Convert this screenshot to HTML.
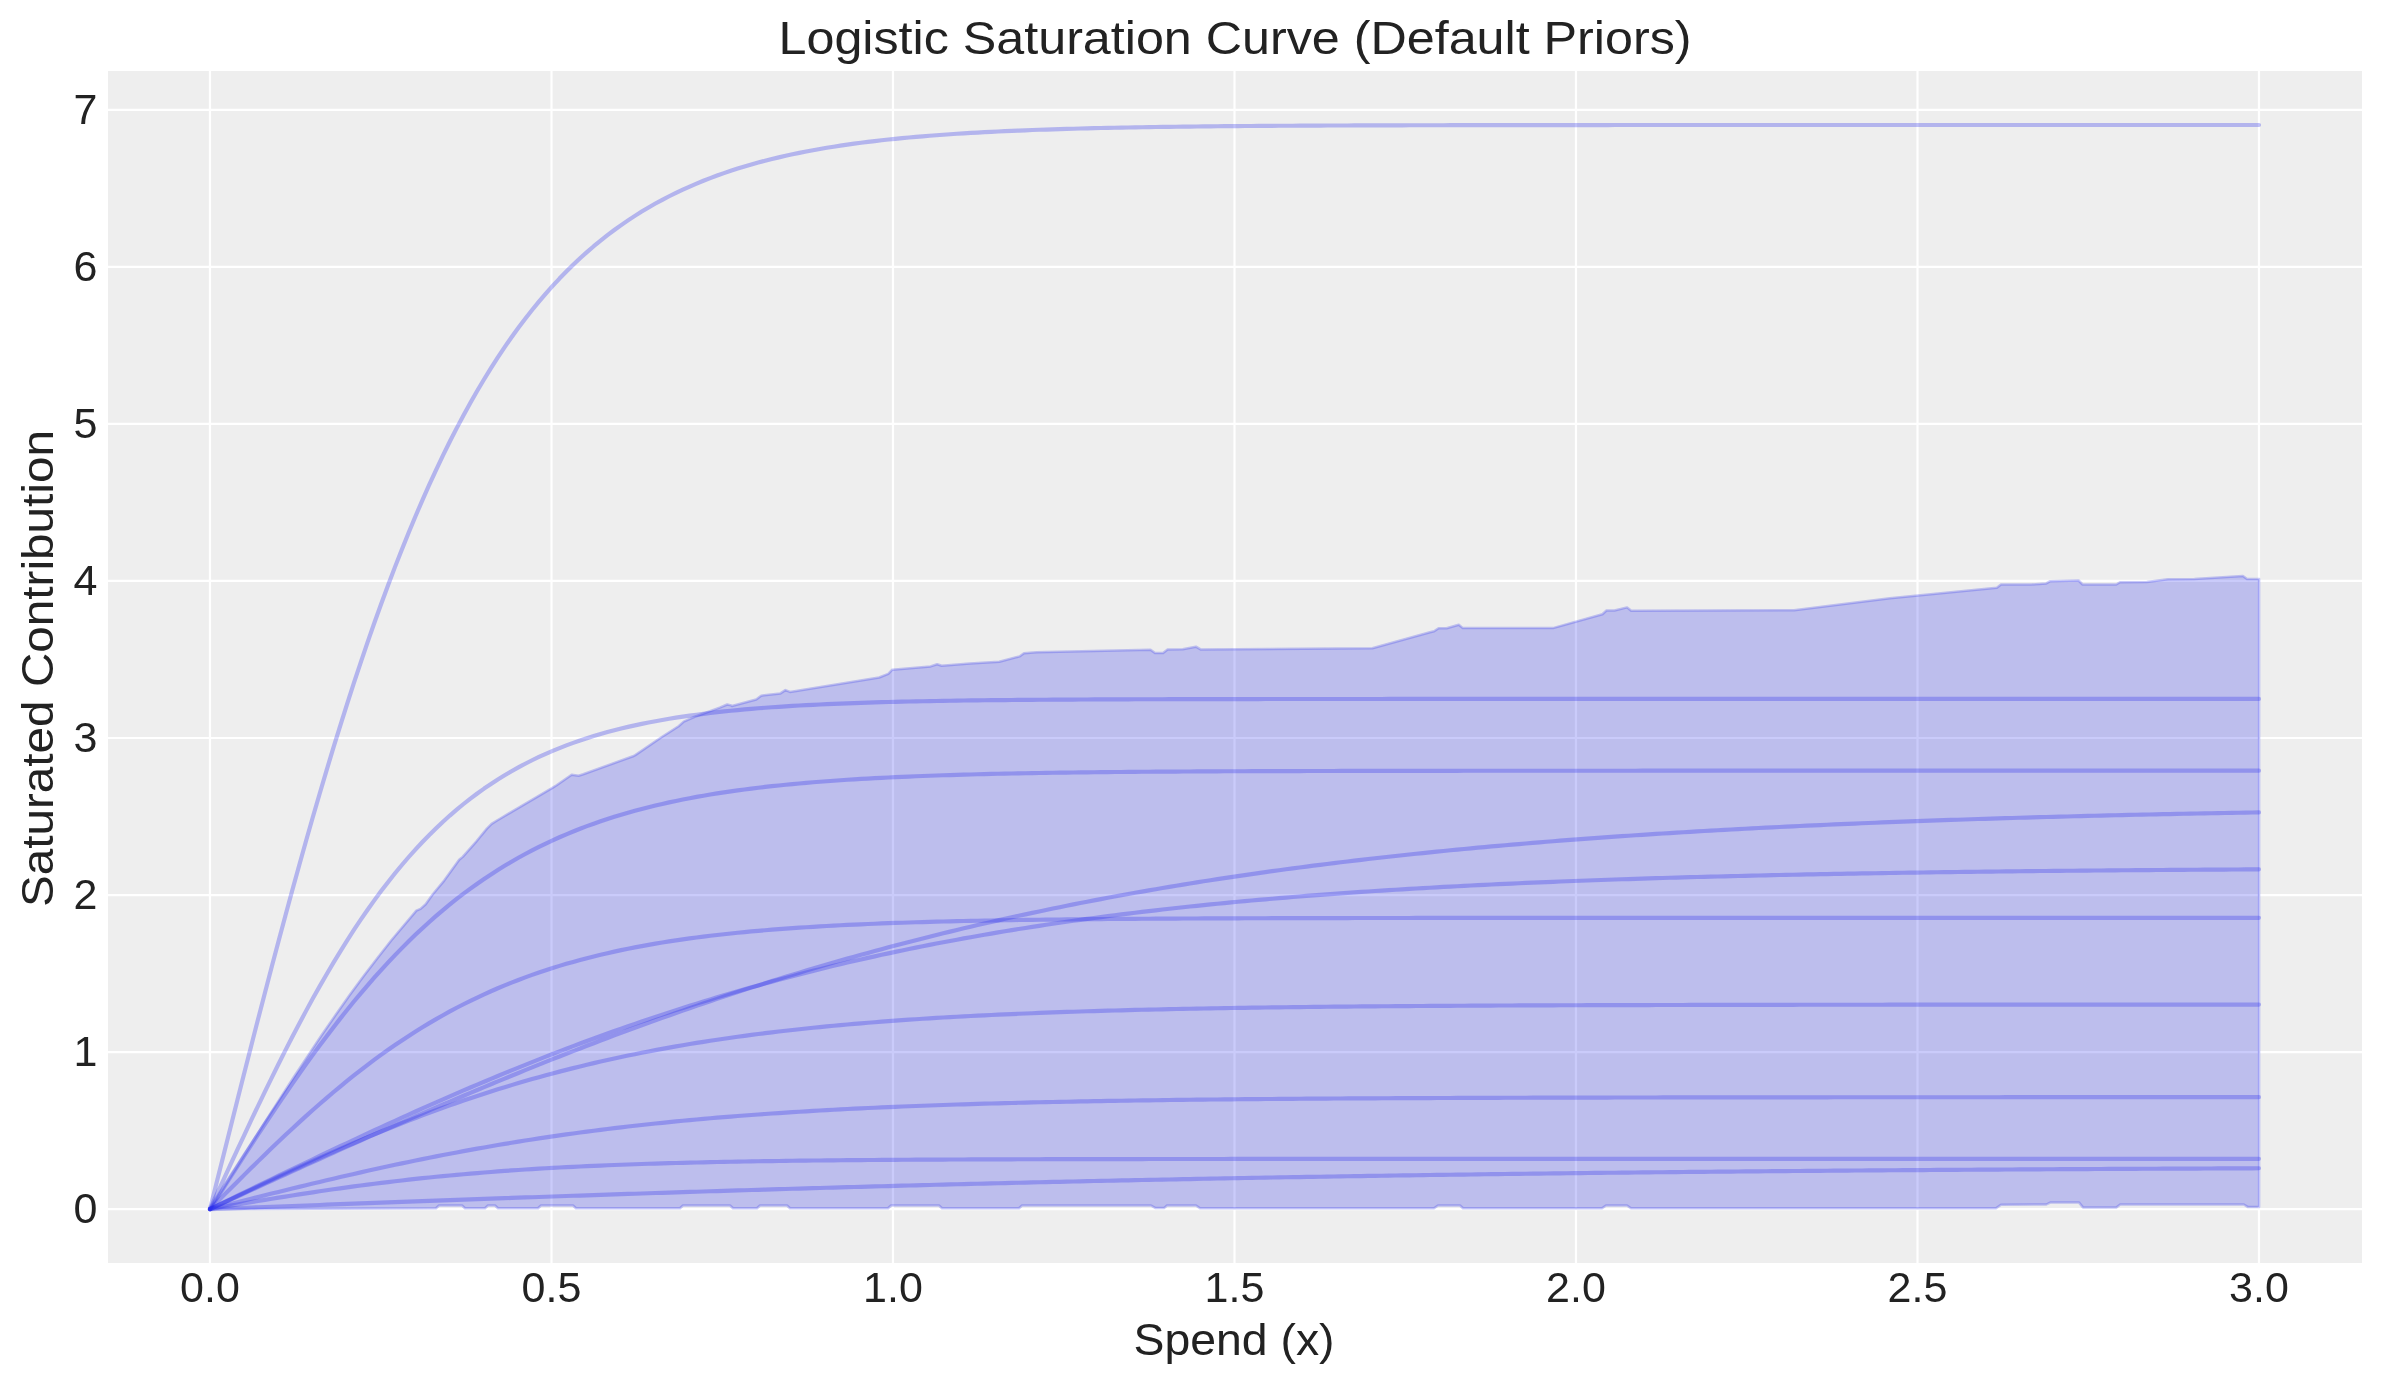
<!DOCTYPE html>
<html><head><meta charset="utf-8"><style>
html,body{margin:0;padding:0;background:#fff;overflow:hidden;}
svg{display:block;will-change:transform;}
text{font-family:"Liberation Sans",sans-serif;fill:#222222;}
</style></head><body>
<svg width="2381" height="1384" viewBox="0 0 2381 1384">
<rect x="0" y="0" width="2381" height="1384" fill="#ffffff"/>
<rect x="108" y="71" width="2254" height="1192" fill="#eeeeee"/>
<g stroke="#ffffff" stroke-width="2.22" fill="none">
<line x1="210.00" y1="71" x2="210.00" y2="1263"/>
<line x1="551.50" y1="71" x2="551.50" y2="1263"/>
<line x1="893.00" y1="71" x2="893.00" y2="1263"/>
<line x1="1234.50" y1="71" x2="1234.50" y2="1263"/>
<line x1="1576.00" y1="71" x2="1576.00" y2="1263"/>
<line x1="1917.50" y1="71" x2="1917.50" y2="1263"/>
<line x1="2259.00" y1="71" x2="2259.00" y2="1263"/>
<line x1="108" y1="1209.10" x2="2362" y2="1209.10"/>
<line x1="108" y1="1052.07" x2="2362" y2="1052.07"/>
<line x1="108" y1="895.04" x2="2362" y2="895.04"/>
<line x1="108" y1="738.01" x2="2362" y2="738.01"/>
<line x1="108" y1="580.98" x2="2362" y2="580.98"/>
<line x1="108" y1="423.95" x2="2362" y2="423.95"/>
<line x1="108" y1="266.92" x2="2362" y2="266.92"/>
<line x1="108" y1="109.89" x2="2362" y2="109.89"/>
</g>
<path d="M210.0,1209.1 L224.0,1187.1 L237.9,1165.0 L251.9,1142.9 L265.8,1120.8 L279.8,1098.9 L293.7,1077.3 L307.7,1056.1 L321.6,1035.3 L335.6,1015.0 L349.5,995.3 L363.5,976.3 L377.5,958.0 L391.4,940.3 L416.4,910.6 L420.5,908.9 L425.7,904.3 L432.6,894.5 L444.2,880.6 L459.2,859.8 L462.7,856.9 L476.5,841.3 L486.9,828.6 L491.6,823.9 L496.2,821.0 L500.0,818.7 L552.0,788.1 L556.6,785.2 L571.7,774.8 L578.6,775.7 L583.2,774.2 L633.0,756.3 L635.3,755.1 L660.7,737.8 L678.6,726.2 L683.8,721.6 L694.2,717.0 L719.7,707.7 L727.2,704.5 L731.2,705.4 L732.0,706.0 L756.2,699.5 L761.2,695.7 L780.4,693.4 L785.4,690.1 L790.0,691.9 L879.2,677.5 L888.3,673.8 L892.3,669.7 L930.6,666.4 L937.1,664.2 L941.7,665.7 L970.0,663.4 L999.3,661.8 L1019.5,656.4 L1024.0,653.2 L1036.6,652.2 L1150.5,649.7 L1155.0,653.0 L1163.1,653.0 L1167.6,649.5 L1182.8,649.2 L1195.9,646.7 L1200.6,649.4 L1372.4,648.3 L1430.0,632.2 L1434.1,631.3 L1438.6,628.3 L1446.7,628.3 L1458.8,624.8 L1462.8,628.1 L1553.0,628.1 L1602.4,614.2 L1606.5,610.5 L1614.5,610.5 L1627.1,607.4 L1631.2,610.7 L1794.1,610.3 L1890.0,598.2 L1996.9,587.7 L2001.0,584.5 L2031.2,584.5 L2046.3,583.4 L2050.3,581.2 L2078.6,580.5 L2082.6,584.5 L2116.3,584.5 L2120.0,582.3 L2146.9,582.1 L2168.0,579.3 L2194.5,578.9 L2242.9,576.0 L2247.0,579.0 L2259.1,579.0 L2259.1,1206.9 L2247.7,1206.9 L2243.8,1204.5 L2120.2,1204.5 L2116.3,1207.4 L2083.0,1207.4 L2079.1,1202.6 L2050.1,1202.6 L2046.3,1204.5 L2001.0,1204.8 L1996.0,1208.2 L1631.0,1208.2 L1627.0,1205.5 L1606.0,1205.5 L1602.0,1208.2 L1463.0,1208.2 L1460.0,1205.5 L1438.0,1205.5 L1434.0,1208.2 L1200.0,1208.2 L1196.0,1205.5 L1167.0,1205.5 L1164.0,1208.1 L1155.6,1208.1 L1151.0,1205.5 L1022.0,1205.5 L1019.0,1208.2 L942.0,1208.2 L939.0,1205.5 L891.0,1205.5 L888.0,1208.2 L790.0,1208.2 L787.0,1205.5 L760.0,1205.5 L757.0,1208.2 L733.0,1208.2 L730.0,1205.5 L683.0,1205.5 L680.0,1208.2 L576.0,1208.2 L573.0,1205.5 L541.0,1205.5 L538.0,1208.2 L498.0,1208.2 L495.0,1205.5 L488.0,1205.5 L485.0,1208.2 L465.0,1208.2 L462.0,1205.5 L439.0,1205.5 L436.0,1208.2 L210.0,1209.1 Z" fill="#2a2eec" fill-opacity="0.25" stroke="#2a2eec" stroke-opacity="0.25" stroke-width="2.5" stroke-linejoin="round"/>
<g fill="none" stroke="#2a2eec" stroke-opacity="0.3" stroke-width="4.17" stroke-linecap="round" stroke-linejoin="round">
<path d="M210.00,1209.10 L216.85,1181.75 L223.71,1154.43 L230.56,1127.18 L237.41,1100.04 L244.26,1073.04 L251.12,1046.20 L257.97,1019.57 L264.82,993.17 L271.68,967.03 L278.53,941.19 L285.38,915.67 L292.23,890.49 L299.09,865.69 L305.94,841.28 L312.79,817.28 L319.65,793.71 L326.50,770.60 L333.35,747.96 L340.20,725.79 L347.06,704.12 L353.91,682.95 L360.76,662.29 L367.62,642.16 L374.47,622.54 L381.32,603.46 L388.17,584.91 L395.03,566.88 L401.88,549.39 L408.73,532.43 L415.59,515.99 L422.44,500.08 L429.29,484.68 L436.14,469.79 L443.00,455.40 L449.85,441.52 L456.70,428.11 L463.56,415.19 L470.41,402.74 L477.26,390.74 L484.11,379.20 L490.97,368.09 L497.82,357.40 L504.67,347.14 L511.53,337.27 L518.38,327.80 L525.23,318.71 L532.08,309.99 L538.94,301.62 L545.79,293.61 L552.64,285.92 L559.49,278.56 L566.35,271.51 L573.20,264.77 L580.05,258.31 L586.91,252.13 L593.76,246.22 L600.61,240.57 L607.46,235.17 L614.32,230.01 L621.17,225.08 L628.02,220.37 L634.88,215.87 L641.73,211.58 L648.58,207.48 L655.43,203.56 L662.29,199.83 L669.14,196.26 L675.99,192.86 L682.85,189.62 L689.70,186.53 L696.55,183.58 L703.40,180.77 L710.26,178.09 L717.11,175.54 L723.96,173.10 L730.82,170.79 L737.67,168.58 L744.52,166.47 L751.37,164.47 L758.23,162.55 L765.08,160.74 L771.93,159.00 L778.79,157.35 L785.64,155.78 L792.49,154.28 L799.34,152.86 L806.20,151.50 L813.05,150.21 L819.90,148.98 L826.76,147.81 L833.61,146.70 L840.46,145.64 L847.31,144.63 L854.17,143.67 L861.02,142.76 L867.87,141.89 L874.73,141.06 L881.58,140.28 L888.43,139.53 L895.28,138.82 L902.14,138.14 L908.99,137.49 L915.84,136.88 L922.70,136.30 L929.55,135.74 L936.40,135.22 L943.25,134.71 L950.11,134.24 L956.96,133.78 L963.81,133.35 L970.67,132.94 L977.52,132.55 L984.37,132.17 L991.22,131.82 L998.08,131.48 L1004.93,131.16 L1011.78,130.86 L1018.64,130.57 L1025.49,130.30 L1032.34,130.03 L1039.19,129.79 L1046.05,129.55 L1052.90,129.32 L1059.75,129.11 L1066.61,128.91 L1073.46,128.71 L1080.31,128.53 L1087.16,128.35 L1094.02,128.19 L1100.87,128.03 L1107.72,127.88 L1114.58,127.73 L1121.43,127.60 L1128.28,127.47 L1135.13,127.35 L1141.99,127.23 L1148.84,127.12 L1155.69,127.01 L1162.55,126.91 L1169.40,126.82 L1176.25,126.72 L1183.10,126.64 L1189.96,126.56 L1196.81,126.48 L1203.66,126.40 L1210.52,126.33 L1217.37,126.26 L1224.22,126.20 L1231.07,126.14 L1237.93,126.08 L1244.78,126.03 L1251.63,125.97 L1258.48,125.93 L1265.34,125.88 L1272.19,125.83 L1279.04,125.79 L1285.90,125.75 L1292.75,125.71 L1299.60,125.67 L1306.45,125.64 L1313.31,125.61 L1320.16,125.57 L1327.01,125.54 L1333.87,125.52 L1340.72,125.49 L1347.57,125.46 L1354.42,125.44 L1361.28,125.42 L1368.13,125.39 L1374.98,125.37 L1381.84,125.35 L1388.69,125.33 L1395.54,125.31 L1402.39,125.30 L1409.25,125.28 L1416.10,125.27 L1422.95,125.25 L1429.81,125.24 L1436.66,125.22 L1443.51,125.21 L1450.36,125.20 L1457.22,125.19 L1464.07,125.18 L1470.92,125.17 L1477.78,125.16 L1484.63,125.15 L1491.48,125.14 L1498.33,125.13 L1505.19,125.12 L1512.04,125.11 L1518.89,125.11 L1525.75,125.10 L1532.60,125.09 L1539.45,125.09 L1546.30,125.08 L1553.16,125.07 L1560.01,125.07 L1566.86,125.06 L1573.72,125.06 L1580.57,125.05 L1587.42,125.05 L1594.27,125.05 L1601.13,125.04 L1607.98,125.04 L1614.83,125.03 L1621.69,125.03 L1628.54,125.03 L1635.39,125.02 L1642.24,125.02 L1649.10,125.02 L1655.95,125.02 L1662.80,125.01 L1669.66,125.01 L1676.51,125.01 L1683.36,125.01 L1690.21,125.00 L1697.07,125.00 L1703.92,125.00 L1710.77,125.00 L1717.63,125.00 L1724.48,125.00 L1731.33,124.99 L1738.18,124.99 L1745.04,124.99 L1751.89,124.99 L1758.74,124.99 L1765.60,124.99 L1772.45,124.99 L1779.30,124.99 L1786.15,124.98 L1793.01,124.98 L1799.86,124.98 L1806.71,124.98 L1813.57,124.98 L1820.42,124.98 L1827.27,124.98 L1834.12,124.98 L1840.98,124.98 L1847.83,124.98 L1854.68,124.98 L1861.54,124.98 L1868.39,124.98 L1875.24,124.98 L1882.09,124.97 L1888.95,124.97 L1895.80,124.97 L1902.65,124.97 L1909.51,124.97 L1916.36,124.97 L1923.21,124.97 L1930.06,124.97 L1936.92,124.97 L1943.77,124.97 L1950.62,124.97 L1957.47,124.97 L1964.33,124.97 L1971.18,124.97 L1978.03,124.97 L1984.89,124.97 L1991.74,124.97 L1998.59,124.97 L2005.44,124.97 L2012.30,124.97 L2019.15,124.97 L2026.00,124.97 L2032.86,124.97 L2039.71,124.97 L2046.56,124.97 L2053.41,124.97 L2060.27,124.97 L2067.12,124.97 L2073.97,124.97 L2080.83,124.97 L2087.68,124.97 L2094.53,124.97 L2101.38,124.97 L2108.24,124.97 L2115.09,124.97 L2121.94,124.97 L2128.80,124.97 L2135.65,124.97 L2142.50,124.97 L2149.35,124.97 L2156.21,124.97 L2163.06,124.97 L2169.91,124.97 L2176.77,124.97 L2183.62,124.97 L2190.47,124.97 L2197.32,124.97 L2204.18,124.97 L2211.03,124.97 L2217.88,124.97 L2224.74,124.97 L2231.59,124.97 L2238.44,124.97 L2245.29,124.97 L2252.15,124.97 L2259.00,124.97"/>
<path d="M210.00,1209.10 L216.85,1194.18 L223.71,1179.29 L230.56,1164.45 L237.41,1149.68 L244.26,1135.02 L251.12,1120.48 L257.97,1106.08 L264.82,1091.86 L271.68,1077.82 L278.53,1064.00 L285.38,1050.40 L292.23,1037.05 L299.09,1023.95 L305.94,1011.14 L312.79,998.61 L319.65,986.38 L326.50,974.45 L333.35,962.85 L340.20,951.57 L347.06,940.61 L353.91,929.99 L360.76,919.70 L367.62,909.75 L374.47,900.13 L381.32,890.85 L388.17,881.90 L395.03,873.28 L401.88,864.98 L408.73,857.01 L415.59,849.35 L422.44,842.00 L429.29,834.96 L436.14,828.21 L443.00,821.74 L449.85,815.56 L456.70,809.65 L463.56,804.01 L470.41,798.62 L477.26,793.48 L484.11,788.58 L490.97,783.91 L497.82,779.46 L504.67,775.23 L511.53,771.20 L518.38,767.37 L525.23,763.72 L532.08,760.26 L538.94,756.98 L545.79,753.85 L552.64,750.89 L559.49,748.08 L566.35,745.41 L573.20,742.89 L580.05,740.49 L586.91,738.22 L593.76,736.07 L600.61,734.03 L607.46,732.10 L614.32,730.27 L621.17,728.54 L628.02,726.90 L634.88,725.35 L641.73,723.89 L648.58,722.50 L655.43,721.19 L662.29,719.95 L669.14,718.78 L675.99,717.67 L682.85,716.62 L689.70,715.63 L696.55,714.70 L703.40,713.81 L710.26,712.98 L717.11,712.19 L723.96,711.44 L730.82,710.74 L737.67,710.07 L744.52,709.45 L751.37,708.85 L758.23,708.29 L765.08,707.77 L771.93,707.27 L778.79,706.80 L785.64,706.35 L792.49,705.93 L799.34,705.53 L806.20,705.16 L813.05,704.81 L819.90,704.47 L826.76,704.16 L833.61,703.86 L840.46,703.58 L847.31,703.32 L854.17,703.07 L861.02,702.83 L867.87,702.61 L874.73,702.40 L881.58,702.20 L888.43,702.02 L895.28,701.84 L902.14,701.68 L908.99,701.52 L915.84,701.37 L922.70,701.23 L929.55,701.10 L936.40,700.98 L943.25,700.86 L950.11,700.75 L956.96,700.64 L963.81,700.54 L970.67,700.45 L977.52,700.36 L984.37,700.28 L991.22,700.20 L998.08,700.13 L1004.93,700.06 L1011.78,700.00 L1018.64,699.93 L1025.49,699.88 L1032.34,699.82 L1039.19,699.77 L1046.05,699.72 L1052.90,699.67 L1059.75,699.63 L1066.61,699.59 L1073.46,699.55 L1080.31,699.52 L1087.16,699.48 L1094.02,699.45 L1100.87,699.42 L1107.72,699.39 L1114.58,699.36 L1121.43,699.34 L1128.28,699.31 L1135.13,699.29 L1141.99,699.27 L1148.84,699.25 L1155.69,699.23 L1162.55,699.21 L1169.40,699.19 L1176.25,699.18 L1183.10,699.16 L1189.96,699.15 L1196.81,699.13 L1203.66,699.12 L1210.52,699.11 L1217.37,699.10 L1224.22,699.09 L1231.07,699.08 L1237.93,699.07 L1244.78,699.06 L1251.63,699.05 L1258.48,699.04 L1265.34,699.03 L1272.19,699.03 L1279.04,699.02 L1285.90,699.01 L1292.75,699.01 L1299.60,699.00 L1306.45,699.00 L1313.31,698.99 L1320.16,698.99 L1327.01,698.98 L1333.87,698.98 L1340.72,698.98 L1347.57,698.97 L1354.42,698.97 L1361.28,698.96 L1368.13,698.96 L1374.98,698.96 L1381.84,698.96 L1388.69,698.95 L1395.54,698.95 L1402.39,698.95 L1409.25,698.95 L1416.10,698.94 L1422.95,698.94 L1429.81,698.94 L1436.66,698.94 L1443.51,698.94 L1450.36,698.94 L1457.22,698.93 L1464.07,698.93 L1470.92,698.93 L1477.78,698.93 L1484.63,698.93 L1491.48,698.93 L1498.33,698.93 L1505.19,698.93 L1512.04,698.92 L1518.89,698.92 L1525.75,698.92 L1532.60,698.92 L1539.45,698.92 L1546.30,698.92 L1553.16,698.92 L1560.01,698.92 L1566.86,698.92 L1573.72,698.92 L1580.57,698.92 L1587.42,698.92 L1594.27,698.92 L1601.13,698.92 L1607.98,698.92 L1614.83,698.92 L1621.69,698.92 L1628.54,698.92 L1635.39,698.91 L1642.24,698.91 L1649.10,698.91 L1655.95,698.91 L1662.80,698.91 L1669.66,698.91 L1676.51,698.91 L1683.36,698.91 L1690.21,698.91 L1697.07,698.91 L1703.92,698.91 L1710.77,698.91 L1717.63,698.91 L1724.48,698.91 L1731.33,698.91 L1738.18,698.91 L1745.04,698.91 L1751.89,698.91 L1758.74,698.91 L1765.60,698.91 L1772.45,698.91 L1779.30,698.91 L1786.15,698.91 L1793.01,698.91 L1799.86,698.91 L1806.71,698.91 L1813.57,698.91 L1820.42,698.91 L1827.27,698.91 L1834.12,698.91 L1840.98,698.91 L1847.83,698.91 L1854.68,698.91 L1861.54,698.91 L1868.39,698.91 L1875.24,698.91 L1882.09,698.91 L1888.95,698.91 L1895.80,698.91 L1902.65,698.91 L1909.51,698.91 L1916.36,698.91 L1923.21,698.91 L1930.06,698.91 L1936.92,698.91 L1943.77,698.91 L1950.62,698.91 L1957.47,698.91 L1964.33,698.91 L1971.18,698.91 L1978.03,698.91 L1984.89,698.91 L1991.74,698.91 L1998.59,698.91 L2005.44,698.91 L2012.30,698.91 L2019.15,698.91 L2026.00,698.91 L2032.86,698.91 L2039.71,698.91 L2046.56,698.91 L2053.41,698.91 L2060.27,698.91 L2067.12,698.91 L2073.97,698.91 L2080.83,698.91 L2087.68,698.91 L2094.53,698.91 L2101.38,698.91 L2108.24,698.91 L2115.09,698.91 L2121.94,698.91 L2128.80,698.91 L2135.65,698.91 L2142.50,698.91 L2149.35,698.91 L2156.21,698.91 L2163.06,698.91 L2169.91,698.91 L2176.77,698.91 L2183.62,698.91 L2190.47,698.91 L2197.32,698.91 L2204.18,698.91 L2211.03,698.91 L2217.88,698.91 L2224.74,698.91 L2231.59,698.91 L2238.44,698.91 L2245.29,698.91 L2252.15,698.91 L2259.00,698.91"/>
<path d="M210.00,1209.10 L216.85,1198.36 L223.71,1187.64 L230.56,1176.94 L237.41,1166.28 L244.26,1155.67 L251.12,1145.12 L257.97,1134.65 L264.82,1124.26 L271.68,1113.98 L278.53,1103.80 L285.38,1093.74 L292.23,1083.81 L299.09,1074.02 L305.94,1064.37 L312.79,1054.88 L319.65,1045.55 L326.50,1036.39 L333.35,1027.41 L340.20,1018.60 L347.06,1009.98 L353.91,1001.55 L360.76,993.32 L367.62,985.28 L374.47,977.44 L381.32,969.79 L388.17,962.36 L395.03,955.12 L401.88,948.08 L408.73,941.25 L415.59,934.62 L422.44,928.19 L429.29,921.96 L436.14,915.92 L443.00,910.08 L449.85,904.43 L456.70,898.97 L463.56,893.70 L470.41,888.61 L477.26,883.70 L484.11,878.96 L490.97,874.40 L497.82,870.00 L504.67,865.76 L511.53,861.69 L518.38,857.77 L525.23,854.00 L532.08,850.38 L538.94,846.90 L545.79,843.56 L552.64,840.35 L559.49,837.27 L566.35,834.32 L573.20,831.49 L580.05,828.77 L586.91,826.17 L593.76,823.68 L600.61,821.29 L607.46,819.00 L614.32,816.81 L621.17,814.72 L628.02,812.71 L634.88,810.79 L641.73,808.96 L648.58,807.21 L655.43,805.53 L662.29,803.92 L669.14,802.39 L675.99,800.93 L682.85,799.53 L689.70,798.19 L696.55,796.92 L703.40,795.70 L710.26,794.53 L717.11,793.42 L723.96,792.36 L730.82,791.35 L737.67,790.38 L744.52,789.46 L751.37,788.58 L758.23,787.74 L765.08,786.94 L771.93,786.18 L778.79,785.45 L785.64,784.75 L792.49,784.09 L799.34,783.46 L806.20,782.85 L813.05,782.28 L819.90,781.73 L826.76,781.21 L833.61,780.71 L840.46,780.24 L847.31,779.78 L854.17,779.35 L861.02,778.94 L867.87,778.55 L874.73,778.18 L881.58,777.82 L888.43,777.48 L895.28,777.16 L902.14,776.85 L908.99,776.56 L915.84,776.28 L922.70,776.01 L929.55,775.76 L936.40,775.52 L943.25,775.28 L950.11,775.07 L956.96,774.86 L963.81,774.66 L970.67,774.47 L977.52,774.29 L984.37,774.11 L991.22,773.95 L998.08,773.79 L1004.93,773.65 L1011.78,773.50 L1018.64,773.37 L1025.49,773.24 L1032.34,773.12 L1039.19,773.00 L1046.05,772.89 L1052.90,772.78 L1059.75,772.68 L1066.61,772.59 L1073.46,772.50 L1080.31,772.41 L1087.16,772.33 L1094.02,772.25 L1100.87,772.17 L1107.72,772.10 L1114.58,772.03 L1121.43,771.97 L1128.28,771.91 L1135.13,771.85 L1141.99,771.79 L1148.84,771.74 L1155.69,771.69 L1162.55,771.64 L1169.40,771.59 L1176.25,771.55 L1183.10,771.51 L1189.96,771.47 L1196.81,771.43 L1203.66,771.39 L1210.52,771.36 L1217.37,771.33 L1224.22,771.29 L1231.07,771.26 L1237.93,771.24 L1244.78,771.21 L1251.63,771.18 L1258.48,771.16 L1265.34,771.14 L1272.19,771.11 L1279.04,771.09 L1285.90,771.07 L1292.75,771.05 L1299.60,771.04 L1306.45,771.02 L1313.31,771.00 L1320.16,770.99 L1327.01,770.97 L1333.87,770.96 L1340.72,770.94 L1347.57,770.93 L1354.42,770.92 L1361.28,770.91 L1368.13,770.89 L1374.98,770.88 L1381.84,770.87 L1388.69,770.86 L1395.54,770.85 L1402.39,770.85 L1409.25,770.84 L1416.10,770.83 L1422.95,770.82 L1429.81,770.82 L1436.66,770.81 L1443.51,770.80 L1450.36,770.80 L1457.22,770.79 L1464.07,770.78 L1470.92,770.78 L1477.78,770.77 L1484.63,770.77 L1491.48,770.76 L1498.33,770.76 L1505.19,770.76 L1512.04,770.75 L1518.89,770.75 L1525.75,770.74 L1532.60,770.74 L1539.45,770.74 L1546.30,770.73 L1553.16,770.73 L1560.01,770.73 L1566.86,770.73 L1573.72,770.72 L1580.57,770.72 L1587.42,770.72 L1594.27,770.72 L1601.13,770.71 L1607.98,770.71 L1614.83,770.71 L1621.69,770.71 L1628.54,770.71 L1635.39,770.71 L1642.24,770.70 L1649.10,770.70 L1655.95,770.70 L1662.80,770.70 L1669.66,770.70 L1676.51,770.70 L1683.36,770.70 L1690.21,770.69 L1697.07,770.69 L1703.92,770.69 L1710.77,770.69 L1717.63,770.69 L1724.48,770.69 L1731.33,770.69 L1738.18,770.69 L1745.04,770.69 L1751.89,770.69 L1758.74,770.69 L1765.60,770.69 L1772.45,770.68 L1779.30,770.68 L1786.15,770.68 L1793.01,770.68 L1799.86,770.68 L1806.71,770.68 L1813.57,770.68 L1820.42,770.68 L1827.27,770.68 L1834.12,770.68 L1840.98,770.68 L1847.83,770.68 L1854.68,770.68 L1861.54,770.68 L1868.39,770.68 L1875.24,770.68 L1882.09,770.68 L1888.95,770.68 L1895.80,770.68 L1902.65,770.68 L1909.51,770.68 L1916.36,770.68 L1923.21,770.68 L1930.06,770.68 L1936.92,770.68 L1943.77,770.68 L1950.62,770.68 L1957.47,770.68 L1964.33,770.68 L1971.18,770.68 L1978.03,770.68 L1984.89,770.67 L1991.74,770.67 L1998.59,770.67 L2005.44,770.67 L2012.30,770.67 L2019.15,770.67 L2026.00,770.67 L2032.86,770.67 L2039.71,770.67 L2046.56,770.67 L2053.41,770.67 L2060.27,770.67 L2067.12,770.67 L2073.97,770.67 L2080.83,770.67 L2087.68,770.67 L2094.53,770.67 L2101.38,770.67 L2108.24,770.67 L2115.09,770.67 L2121.94,770.67 L2128.80,770.67 L2135.65,770.67 L2142.50,770.67 L2149.35,770.67 L2156.21,770.67 L2163.06,770.67 L2169.91,770.67 L2176.77,770.67 L2183.62,770.67 L2190.47,770.67 L2197.32,770.67 L2204.18,770.67 L2211.03,770.67 L2217.88,770.67 L2224.74,770.67 L2231.59,770.67 L2238.44,770.67 L2245.29,770.67 L2252.15,770.67 L2259.00,770.67"/>
<path d="M210.00,1209.10 L216.85,1205.95 L223.71,1202.80 L230.56,1199.66 L237.41,1196.51 L244.26,1193.37 L251.12,1190.22 L257.97,1187.08 L264.82,1183.95 L271.68,1180.81 L278.53,1177.68 L285.38,1174.55 L292.23,1171.43 L299.09,1168.31 L305.94,1165.20 L312.79,1162.09 L319.65,1158.99 L326.50,1155.89 L333.35,1152.80 L340.20,1149.72 L347.06,1146.64 L353.91,1143.57 L360.76,1140.51 L367.62,1137.45 L374.47,1134.41 L381.32,1131.37 L388.17,1128.35 L395.03,1125.33 L401.88,1122.32 L408.73,1119.32 L415.59,1116.33 L422.44,1113.36 L429.29,1110.39 L436.14,1107.43 L443.00,1104.49 L449.85,1101.56 L456.70,1098.64 L463.56,1095.73 L470.41,1092.84 L477.26,1089.96 L484.11,1087.09 L490.97,1084.23 L497.82,1081.39 L504.67,1078.57 L511.53,1075.75 L518.38,1072.95 L525.23,1070.17 L532.08,1067.40 L538.94,1064.65 L545.79,1061.91 L552.64,1059.18 L559.49,1056.48 L566.35,1053.79 L573.20,1051.11 L580.05,1048.45 L586.91,1045.81 L593.76,1043.18 L600.61,1040.57 L607.46,1037.98 L614.32,1035.40 L621.17,1032.84 L628.02,1030.30 L634.88,1027.78 L641.73,1025.27 L648.58,1022.78 L655.43,1020.31 L662.29,1017.86 L669.14,1015.42 L675.99,1013.01 L682.85,1010.61 L689.70,1008.23 L696.55,1005.87 L703.40,1003.52 L710.26,1001.20 L717.11,998.89 L723.96,996.60 L730.82,994.33 L737.67,992.08 L744.52,989.85 L751.37,987.64 L758.23,985.44 L765.08,983.27 L771.93,981.11 L778.79,978.97 L785.64,976.85 L792.49,974.75 L799.34,972.67 L806.20,970.61 L813.05,968.56 L819.90,966.54 L826.76,964.53 L833.61,962.55 L840.46,960.58 L847.31,958.63 L854.17,956.70 L861.02,954.79 L867.87,952.89 L874.73,951.02 L881.58,949.16 L888.43,947.32 L895.28,945.50 L902.14,943.70 L908.99,941.92 L915.84,940.15 L922.70,938.41 L929.55,936.68 L936.40,934.97 L943.25,933.28 L950.11,931.60 L956.96,929.95 L963.81,928.31 L970.67,926.69 L977.52,925.08 L984.37,923.50 L991.22,921.93 L998.08,920.38 L1004.93,918.84 L1011.78,917.32 L1018.64,915.82 L1025.49,914.34 L1032.34,912.87 L1039.19,911.42 L1046.05,909.99 L1052.90,908.57 L1059.75,907.17 L1066.61,905.78 L1073.46,904.42 L1080.31,903.06 L1087.16,901.73 L1094.02,900.41 L1100.87,899.10 L1107.72,897.81 L1114.58,896.53 L1121.43,895.28 L1128.28,894.03 L1135.13,892.80 L1141.99,891.59 L1148.84,890.39 L1155.69,889.20 L1162.55,888.03 L1169.40,886.88 L1176.25,885.73 L1183.10,884.61 L1189.96,883.49 L1196.81,882.39 L1203.66,881.31 L1210.52,880.23 L1217.37,879.17 L1224.22,878.13 L1231.07,877.10 L1237.93,876.08 L1244.78,875.07 L1251.63,874.08 L1258.48,873.10 L1265.34,872.13 L1272.19,871.17 L1279.04,870.23 L1285.90,869.30 L1292.75,868.38 L1299.60,867.47 L1306.45,866.58 L1313.31,865.69 L1320.16,864.82 L1327.01,863.96 L1333.87,863.11 L1340.72,862.28 L1347.57,861.45 L1354.42,860.63 L1361.28,859.83 L1368.13,859.04 L1374.98,858.25 L1381.84,857.48 L1388.69,856.72 L1395.54,855.96 L1402.39,855.22 L1409.25,854.49 L1416.10,853.77 L1422.95,853.06 L1429.81,852.35 L1436.66,851.66 L1443.51,850.98 L1450.36,850.30 L1457.22,849.64 L1464.07,848.98 L1470.92,848.34 L1477.78,847.70 L1484.63,847.07 L1491.48,846.45 L1498.33,845.84 L1505.19,845.23 L1512.04,844.64 L1518.89,844.05 L1525.75,843.48 L1532.60,842.91 L1539.45,842.34 L1546.30,841.79 L1553.16,841.24 L1560.01,840.70 L1566.86,840.17 L1573.72,839.65 L1580.57,839.13 L1587.42,838.62 L1594.27,838.12 L1601.13,837.63 L1607.98,837.14 L1614.83,836.66 L1621.69,836.18 L1628.54,835.72 L1635.39,835.26 L1642.24,834.80 L1649.10,834.36 L1655.95,833.91 L1662.80,833.48 L1669.66,833.05 L1676.51,832.63 L1683.36,832.21 L1690.21,831.80 L1697.07,831.40 L1703.92,831.00 L1710.77,830.61 L1717.63,830.22 L1724.48,829.84 L1731.33,829.46 L1738.18,829.09 L1745.04,828.73 L1751.89,828.37 L1758.74,828.01 L1765.60,827.66 L1772.45,827.32 L1779.30,826.98 L1786.15,826.65 L1793.01,826.32 L1799.86,825.99 L1806.71,825.67 L1813.57,825.36 L1820.42,825.05 L1827.27,824.74 L1834.12,824.44 L1840.98,824.14 L1847.83,823.85 L1854.68,823.56 L1861.54,823.28 L1868.39,823.00 L1875.24,822.72 L1882.09,822.45 L1888.95,822.18 L1895.80,821.92 L1902.65,821.66 L1909.51,821.40 L1916.36,821.15 L1923.21,820.90 L1930.06,820.66 L1936.92,820.42 L1943.77,820.18 L1950.62,819.95 L1957.47,819.72 L1964.33,819.49 L1971.18,819.27 L1978.03,819.04 L1984.89,818.83 L1991.74,818.61 L1998.59,818.40 L2005.44,818.20 L2012.30,817.99 L2019.15,817.79 L2026.00,817.59 L2032.86,817.40 L2039.71,817.20 L2046.56,817.01 L2053.41,816.83 L2060.27,816.64 L2067.12,816.46 L2073.97,816.28 L2080.83,816.11 L2087.68,815.94 L2094.53,815.76 L2101.38,815.60 L2108.24,815.43 L2115.09,815.27 L2121.94,815.11 L2128.80,814.95 L2135.65,814.79 L2142.50,814.64 L2149.35,814.49 L2156.21,814.34 L2163.06,814.19 L2169.91,814.05 L2176.77,813.91 L2183.62,813.77 L2190.47,813.63 L2197.32,813.49 L2204.18,813.36 L2211.03,813.23 L2217.88,813.10 L2224.74,812.97 L2231.59,812.85 L2238.44,812.72 L2245.29,812.60 L2252.15,812.48 L2259.00,812.36"/>
<path d="M210.00,1209.10 L216.85,1205.75 L223.71,1202.41 L230.56,1199.06 L237.41,1195.72 L244.26,1192.38 L251.12,1189.05 L257.97,1185.71 L264.82,1182.39 L271.68,1179.06 L278.53,1175.75 L285.38,1172.43 L292.23,1169.13 L299.09,1165.83 L305.94,1162.55 L312.79,1159.27 L319.65,1156.00 L326.50,1152.74 L333.35,1149.49 L340.20,1146.25 L347.06,1143.02 L353.91,1139.81 L360.76,1136.60 L367.62,1133.41 L374.47,1130.24 L381.32,1127.08 L388.17,1123.93 L395.03,1120.80 L401.88,1117.69 L408.73,1114.59 L415.59,1111.51 L422.44,1108.44 L429.29,1105.40 L436.14,1102.37 L443.00,1099.36 L449.85,1096.37 L456.70,1093.39 L463.56,1090.44 L470.41,1087.51 L477.26,1084.60 L484.11,1081.71 L490.97,1078.83 L497.82,1075.99 L504.67,1073.16 L511.53,1070.35 L518.38,1067.57 L525.23,1064.81 L532.08,1062.07 L538.94,1059.36 L545.79,1056.66 L552.64,1054.00 L559.49,1051.35 L566.35,1048.73 L573.20,1046.13 L580.05,1043.56 L586.91,1041.01 L593.76,1038.49 L600.61,1035.99 L607.46,1033.51 L614.32,1031.06 L621.17,1028.64 L628.02,1026.24 L634.88,1023.86 L641.73,1021.51 L648.58,1019.19 L655.43,1016.89 L662.29,1014.61 L669.14,1012.36 L675.99,1010.14 L682.85,1007.94 L689.70,1005.76 L696.55,1003.62 L703.40,1001.49 L710.26,999.39 L717.11,997.32 L723.96,995.27 L730.82,993.25 L737.67,991.25 L744.52,989.28 L751.37,987.33 L758.23,985.40 L765.08,983.50 L771.93,981.63 L778.79,979.78 L785.64,977.95 L792.49,976.15 L799.34,974.37 L806.20,972.61 L813.05,970.88 L819.90,969.17 L826.76,967.49 L833.61,965.83 L840.46,964.19 L847.31,962.57 L854.17,960.98 L861.02,959.41 L867.87,957.86 L874.73,956.34 L881.58,954.83 L888.43,953.35 L895.28,951.89 L902.14,950.45 L908.99,949.03 L915.84,947.63 L922.70,946.26 L929.55,944.90 L936.40,943.57 L943.25,942.25 L950.11,940.95 L956.96,939.68 L963.81,938.42 L970.67,937.19 L977.52,935.97 L984.37,934.77 L991.22,933.59 L998.08,932.43 L1004.93,931.28 L1011.78,930.16 L1018.64,929.05 L1025.49,927.96 L1032.34,926.89 L1039.19,925.84 L1046.05,924.80 L1052.90,923.78 L1059.75,922.77 L1066.61,921.78 L1073.46,920.81 L1080.31,919.85 L1087.16,918.91 L1094.02,917.99 L1100.87,917.08 L1107.72,916.18 L1114.58,915.30 L1121.43,914.44 L1128.28,913.59 L1135.13,912.75 L1141.99,911.93 L1148.84,911.12 L1155.69,910.33 L1162.55,909.55 L1169.40,908.78 L1176.25,908.02 L1183.10,907.28 L1189.96,906.55 L1196.81,905.84 L1203.66,905.13 L1210.52,904.44 L1217.37,903.76 L1224.22,903.09 L1231.07,902.43 L1237.93,901.79 L1244.78,901.15 L1251.63,900.53 L1258.48,899.92 L1265.34,899.32 L1272.19,898.73 L1279.04,898.15 L1285.90,897.58 L1292.75,897.02 L1299.60,896.47 L1306.45,895.93 L1313.31,895.40 L1320.16,894.88 L1327.01,894.36 L1333.87,893.86 L1340.72,893.37 L1347.57,892.88 L1354.42,892.41 L1361.28,891.94 L1368.13,891.48 L1374.98,891.03 L1381.84,890.59 L1388.69,890.15 L1395.54,889.73 L1402.39,889.31 L1409.25,888.89 L1416.10,888.49 L1422.95,888.09 L1429.81,887.71 L1436.66,887.32 L1443.51,886.95 L1450.36,886.58 L1457.22,886.22 L1464.07,885.86 L1470.92,885.51 L1477.78,885.17 L1484.63,884.84 L1491.48,884.51 L1498.33,884.18 L1505.19,883.86 L1512.04,883.55 L1518.89,883.25 L1525.75,882.95 L1532.60,882.65 L1539.45,882.36 L1546.30,882.08 L1553.16,881.80 L1560.01,881.53 L1566.86,881.26 L1573.72,881.00 L1580.57,880.74 L1587.42,880.48 L1594.27,880.23 L1601.13,879.99 L1607.98,879.75 L1614.83,879.51 L1621.69,879.28 L1628.54,879.06 L1635.39,878.84 L1642.24,878.62 L1649.10,878.40 L1655.95,878.19 L1662.80,877.99 L1669.66,877.78 L1676.51,877.59 L1683.36,877.39 L1690.21,877.20 L1697.07,877.01 L1703.92,876.83 L1710.77,876.65 L1717.63,876.47 L1724.48,876.30 L1731.33,876.13 L1738.18,875.96 L1745.04,875.80 L1751.89,875.64 L1758.74,875.48 L1765.60,875.32 L1772.45,875.17 L1779.30,875.02 L1786.15,874.88 L1793.01,874.73 L1799.86,874.59 L1806.71,874.45 L1813.57,874.32 L1820.42,874.19 L1827.27,874.06 L1834.12,873.93 L1840.98,873.80 L1847.83,873.68 L1854.68,873.56 L1861.54,873.44 L1868.39,873.33 L1875.24,873.21 L1882.09,873.10 L1888.95,872.99 L1895.80,872.88 L1902.65,872.78 L1909.51,872.67 L1916.36,872.57 L1923.21,872.47 L1930.06,872.37 L1936.92,872.28 L1943.77,872.19 L1950.62,872.09 L1957.47,872.00 L1964.33,871.91 L1971.18,871.83 L1978.03,871.74 L1984.89,871.66 L1991.74,871.58 L1998.59,871.50 L2005.44,871.42 L2012.30,871.34 L2019.15,871.26 L2026.00,871.19 L2032.86,871.12 L2039.71,871.04 L2046.56,870.97 L2053.41,870.91 L2060.27,870.84 L2067.12,870.77 L2073.97,870.71 L2080.83,870.64 L2087.68,870.58 L2094.53,870.52 L2101.38,870.46 L2108.24,870.40 L2115.09,870.34 L2121.94,870.28 L2128.80,870.23 L2135.65,870.17 L2142.50,870.12 L2149.35,870.07 L2156.21,870.02 L2163.06,869.97 L2169.91,869.92 L2176.77,869.87 L2183.62,869.82 L2190.47,869.77 L2197.32,869.73 L2204.18,869.68 L2211.03,869.64 L2217.88,869.60 L2224.74,869.55 L2231.59,869.51 L2238.44,869.47 L2245.29,869.43 L2252.15,869.39 L2259.00,869.35"/>
<path d="M210.00,1209.10 L216.85,1202.22 L223.71,1195.35 L230.56,1188.50 L237.41,1181.67 L244.26,1174.87 L251.12,1168.10 L257.97,1161.38 L264.82,1154.72 L271.68,1148.11 L278.53,1141.57 L285.38,1135.09 L292.23,1128.70 L299.09,1122.39 L305.94,1116.16 L312.79,1110.03 L319.65,1104.00 L326.50,1098.07 L333.35,1092.24 L340.20,1086.53 L347.06,1080.92 L353.91,1075.43 L360.76,1070.06 L367.62,1064.81 L374.47,1059.68 L381.32,1054.67 L388.17,1049.79 L395.03,1045.03 L401.88,1040.40 L408.73,1035.89 L415.59,1031.51 L422.44,1027.25 L429.29,1023.11 L436.14,1019.10 L443.00,1015.21 L449.85,1011.44 L456.70,1007.78 L463.56,1004.25 L470.41,1000.83 L477.26,997.52 L484.11,994.33 L490.97,991.25 L497.82,988.27 L504.67,985.39 L511.53,982.62 L518.38,979.95 L525.23,977.38 L532.08,974.90 L538.94,972.51 L545.79,970.22 L552.64,968.01 L559.49,965.88 L566.35,963.84 L573.20,961.88 L580.05,959.99 L586.91,958.18 L593.76,956.44 L600.61,954.77 L607.46,953.17 L614.32,951.64 L621.17,950.16 L628.02,948.75 L634.88,947.39 L641.73,946.10 L648.58,944.85 L655.43,943.66 L662.29,942.52 L669.14,941.42 L675.99,940.38 L682.85,939.37 L689.70,938.41 L696.55,937.50 L703.40,936.62 L710.26,935.78 L717.11,934.97 L723.96,934.20 L730.82,933.47 L737.67,932.76 L744.52,932.09 L751.37,931.45 L758.23,930.83 L765.08,930.24 L771.93,929.68 L778.79,929.14 L785.64,928.63 L792.49,928.14 L799.34,927.67 L806.20,927.23 L813.05,926.80 L819.90,926.39 L826.76,926.00 L833.61,925.63 L840.46,925.27 L847.31,924.93 L854.17,924.61 L861.02,924.30 L867.87,924.00 L874.73,923.72 L881.58,923.45 L888.43,923.19 L895.28,922.94 L902.14,922.71 L908.99,922.48 L915.84,922.27 L922.70,922.07 L929.55,921.87 L936.40,921.68 L943.25,921.51 L950.11,921.34 L956.96,921.18 L963.81,921.02 L970.67,920.87 L977.52,920.73 L984.37,920.60 L991.22,920.47 L998.08,920.35 L1004.93,920.23 L1011.78,920.12 L1018.64,920.01 L1025.49,919.91 L1032.34,919.82 L1039.19,919.72 L1046.05,919.64 L1052.90,919.55 L1059.75,919.47 L1066.61,919.40 L1073.46,919.32 L1080.31,919.25 L1087.16,919.19 L1094.02,919.12 L1100.87,919.06 L1107.72,919.00 L1114.58,918.95 L1121.43,918.90 L1128.28,918.85 L1135.13,918.80 L1141.99,918.75 L1148.84,918.71 L1155.69,918.67 L1162.55,918.63 L1169.40,918.59 L1176.25,918.56 L1183.10,918.52 L1189.96,918.49 L1196.81,918.46 L1203.66,918.43 L1210.52,918.40 L1217.37,918.37 L1224.22,918.35 L1231.07,918.32 L1237.93,918.30 L1244.78,918.27 L1251.63,918.25 L1258.48,918.23 L1265.34,918.21 L1272.19,918.19 L1279.04,918.18 L1285.90,918.16 L1292.75,918.14 L1299.60,918.13 L1306.45,918.11 L1313.31,918.10 L1320.16,918.09 L1327.01,918.07 L1333.87,918.06 L1340.72,918.05 L1347.57,918.04 L1354.42,918.03 L1361.28,918.02 L1368.13,918.01 L1374.98,918.00 L1381.84,917.99 L1388.69,917.98 L1395.54,917.97 L1402.39,917.97 L1409.25,917.96 L1416.10,917.95 L1422.95,917.95 L1429.81,917.94 L1436.66,917.93 L1443.51,917.93 L1450.36,917.92 L1457.22,917.92 L1464.07,917.91 L1470.92,917.91 L1477.78,917.90 L1484.63,917.90 L1491.48,917.89 L1498.33,917.89 L1505.19,917.89 L1512.04,917.88 L1518.89,917.88 L1525.75,917.88 L1532.60,917.87 L1539.45,917.87 L1546.30,917.87 L1553.16,917.86 L1560.01,917.86 L1566.86,917.86 L1573.72,917.86 L1580.57,917.86 L1587.42,917.85 L1594.27,917.85 L1601.13,917.85 L1607.98,917.85 L1614.83,917.85 L1621.69,917.84 L1628.54,917.84 L1635.39,917.84 L1642.24,917.84 L1649.10,917.84 L1655.95,917.84 L1662.80,917.84 L1669.66,917.83 L1676.51,917.83 L1683.36,917.83 L1690.21,917.83 L1697.07,917.83 L1703.92,917.83 L1710.77,917.83 L1717.63,917.83 L1724.48,917.83 L1731.33,917.83 L1738.18,917.82 L1745.04,917.82 L1751.89,917.82 L1758.74,917.82 L1765.60,917.82 L1772.45,917.82 L1779.30,917.82 L1786.15,917.82 L1793.01,917.82 L1799.86,917.82 L1806.71,917.82 L1813.57,917.82 L1820.42,917.82 L1827.27,917.82 L1834.12,917.82 L1840.98,917.82 L1847.83,917.82 L1854.68,917.82 L1861.54,917.82 L1868.39,917.82 L1875.24,917.82 L1882.09,917.82 L1888.95,917.81 L1895.80,917.81 L1902.65,917.81 L1909.51,917.81 L1916.36,917.81 L1923.21,917.81 L1930.06,917.81 L1936.92,917.81 L1943.77,917.81 L1950.62,917.81 L1957.47,917.81 L1964.33,917.81 L1971.18,917.81 L1978.03,917.81 L1984.89,917.81 L1991.74,917.81 L1998.59,917.81 L2005.44,917.81 L2012.30,917.81 L2019.15,917.81 L2026.00,917.81 L2032.86,917.81 L2039.71,917.81 L2046.56,917.81 L2053.41,917.81 L2060.27,917.81 L2067.12,917.81 L2073.97,917.81 L2080.83,917.81 L2087.68,917.81 L2094.53,917.81 L2101.38,917.81 L2108.24,917.81 L2115.09,917.81 L2121.94,917.81 L2128.80,917.81 L2135.65,917.81 L2142.50,917.81 L2149.35,917.81 L2156.21,917.81 L2163.06,917.81 L2169.91,917.81 L2176.77,917.81 L2183.62,917.81 L2190.47,917.81 L2197.32,917.81 L2204.18,917.81 L2211.03,917.81 L2217.88,917.81 L2224.74,917.81 L2231.59,917.81 L2238.44,917.81 L2245.29,917.81 L2252.15,917.81 L2259.00,917.81"/>
<path d="M210.00,1209.10 L216.85,1205.83 L223.71,1202.57 L230.56,1199.31 L237.41,1196.05 L244.26,1192.80 L251.12,1189.56 L257.97,1186.33 L264.82,1183.11 L271.68,1179.90 L278.53,1176.71 L285.38,1173.53 L292.23,1170.37 L299.09,1167.24 L305.94,1164.12 L312.79,1161.02 L319.65,1157.94 L326.50,1154.89 L333.35,1151.87 L340.20,1148.87 L347.06,1145.90 L353.91,1142.96 L360.76,1140.05 L367.62,1137.18 L374.47,1134.33 L381.32,1131.52 L388.17,1128.74 L395.03,1125.99 L401.88,1123.28 L408.73,1120.61 L415.59,1117.97 L422.44,1115.37 L429.29,1112.81 L436.14,1110.29 L443.00,1107.80 L449.85,1105.36 L456.70,1102.95 L463.56,1100.58 L470.41,1098.25 L477.26,1095.97 L484.11,1093.72 L490.97,1091.51 L497.82,1089.35 L504.67,1087.22 L511.53,1085.13 L518.38,1083.08 L525.23,1081.08 L532.08,1079.11 L538.94,1077.18 L545.79,1075.29 L552.64,1073.44 L559.49,1071.63 L566.35,1069.86 L573.20,1068.13 L580.05,1066.43 L586.91,1064.77 L593.76,1063.15 L600.61,1061.56 L607.46,1060.02 L614.32,1058.50 L621.17,1057.02 L628.02,1055.58 L634.88,1054.17 L641.73,1052.79 L648.58,1051.45 L655.43,1050.14 L662.29,1048.86 L669.14,1047.62 L675.99,1046.40 L682.85,1045.21 L689.70,1044.06 L696.55,1042.93 L703.40,1041.84 L710.26,1040.77 L717.11,1039.73 L723.96,1038.71 L730.82,1037.73 L737.67,1036.77 L744.52,1035.83 L751.37,1034.92 L758.23,1034.03 L765.08,1033.17 L771.93,1032.33 L778.79,1031.52 L785.64,1030.72 L792.49,1029.95 L799.34,1029.20 L806.20,1028.47 L813.05,1027.76 L819.90,1027.07 L826.76,1026.40 L833.61,1025.75 L840.46,1025.12 L847.31,1024.50 L854.17,1023.90 L861.02,1023.32 L867.87,1022.76 L874.73,1022.21 L881.58,1021.68 L888.43,1021.16 L895.28,1020.66 L902.14,1020.17 L908.99,1019.70 L915.84,1019.24 L922.70,1018.79 L929.55,1018.36 L936.40,1017.94 L943.25,1017.53 L950.11,1017.14 L956.96,1016.75 L963.81,1016.38 L970.67,1016.02 L977.52,1015.67 L984.37,1015.33 L991.22,1015.00 L998.08,1014.67 L1004.93,1014.36 L1011.78,1014.06 L1018.64,1013.77 L1025.49,1013.49 L1032.34,1013.21 L1039.19,1012.94 L1046.05,1012.68 L1052.90,1012.43 L1059.75,1012.19 L1066.61,1011.95 L1073.46,1011.72 L1080.31,1011.50 L1087.16,1011.29 L1094.02,1011.08 L1100.87,1010.88 L1107.72,1010.68 L1114.58,1010.49 L1121.43,1010.30 L1128.28,1010.13 L1135.13,1009.95 L1141.99,1009.78 L1148.84,1009.62 L1155.69,1009.46 L1162.55,1009.31 L1169.40,1009.16 L1176.25,1009.02 L1183.10,1008.88 L1189.96,1008.74 L1196.81,1008.61 L1203.66,1008.49 L1210.52,1008.36 L1217.37,1008.24 L1224.22,1008.13 L1231.07,1008.02 L1237.93,1007.91 L1244.78,1007.80 L1251.63,1007.70 L1258.48,1007.60 L1265.34,1007.51 L1272.19,1007.41 L1279.04,1007.32 L1285.90,1007.24 L1292.75,1007.15 L1299.60,1007.07 L1306.45,1006.99 L1313.31,1006.92 L1320.16,1006.84 L1327.01,1006.77 L1333.87,1006.70 L1340.72,1006.63 L1347.57,1006.57 L1354.42,1006.50 L1361.28,1006.44 L1368.13,1006.38 L1374.98,1006.32 L1381.84,1006.27 L1388.69,1006.21 L1395.54,1006.16 L1402.39,1006.11 L1409.25,1006.06 L1416.10,1006.01 L1422.95,1005.97 L1429.81,1005.92 L1436.66,1005.88 L1443.51,1005.84 L1450.36,1005.80 L1457.22,1005.76 L1464.07,1005.72 L1470.92,1005.68 L1477.78,1005.65 L1484.63,1005.61 L1491.48,1005.58 L1498.33,1005.54 L1505.19,1005.51 L1512.04,1005.48 L1518.89,1005.45 L1525.75,1005.42 L1532.60,1005.40 L1539.45,1005.37 L1546.30,1005.34 L1553.16,1005.32 L1560.01,1005.29 L1566.86,1005.27 L1573.72,1005.25 L1580.57,1005.22 L1587.42,1005.20 L1594.27,1005.18 L1601.13,1005.16 L1607.98,1005.14 L1614.83,1005.12 L1621.69,1005.10 L1628.54,1005.09 L1635.39,1005.07 L1642.24,1005.05 L1649.10,1005.04 L1655.95,1005.02 L1662.80,1005.01 L1669.66,1004.99 L1676.51,1004.98 L1683.36,1004.96 L1690.21,1004.95 L1697.07,1004.94 L1703.92,1004.92 L1710.77,1004.91 L1717.63,1004.90 L1724.48,1004.89 L1731.33,1004.88 L1738.18,1004.87 L1745.04,1004.86 L1751.89,1004.85 L1758.74,1004.84 L1765.60,1004.83 L1772.45,1004.82 L1779.30,1004.81 L1786.15,1004.80 L1793.01,1004.79 L1799.86,1004.78 L1806.71,1004.78 L1813.57,1004.77 L1820.42,1004.76 L1827.27,1004.75 L1834.12,1004.75 L1840.98,1004.74 L1847.83,1004.74 L1854.68,1004.73 L1861.54,1004.72 L1868.39,1004.72 L1875.24,1004.71 L1882.09,1004.71 L1888.95,1004.70 L1895.80,1004.70 L1902.65,1004.69 L1909.51,1004.69 L1916.36,1004.68 L1923.21,1004.68 L1930.06,1004.67 L1936.92,1004.67 L1943.77,1004.66 L1950.62,1004.66 L1957.47,1004.66 L1964.33,1004.65 L1971.18,1004.65 L1978.03,1004.64 L1984.89,1004.64 L1991.74,1004.64 L1998.59,1004.64 L2005.44,1004.63 L2012.30,1004.63 L2019.15,1004.63 L2026.00,1004.62 L2032.86,1004.62 L2039.71,1004.62 L2046.56,1004.62 L2053.41,1004.61 L2060.27,1004.61 L2067.12,1004.61 L2073.97,1004.61 L2080.83,1004.60 L2087.68,1004.60 L2094.53,1004.60 L2101.38,1004.60 L2108.24,1004.60 L2115.09,1004.59 L2121.94,1004.59 L2128.80,1004.59 L2135.65,1004.59 L2142.50,1004.59 L2149.35,1004.59 L2156.21,1004.58 L2163.06,1004.58 L2169.91,1004.58 L2176.77,1004.58 L2183.62,1004.58 L2190.47,1004.58 L2197.32,1004.58 L2204.18,1004.57 L2211.03,1004.57 L2217.88,1004.57 L2224.74,1004.57 L2231.59,1004.57 L2238.44,1004.57 L2245.29,1004.57 L2252.15,1004.57 L2259.00,1004.57"/>
<path d="M210.00,1209.10 L216.85,1207.37 L223.71,1205.63 L230.56,1203.90 L237.41,1202.17 L244.26,1200.45 L251.12,1198.73 L257.97,1197.01 L264.82,1195.30 L271.68,1193.60 L278.53,1191.90 L285.38,1190.21 L292.23,1188.53 L299.09,1186.86 L305.94,1185.20 L312.79,1183.55 L319.65,1181.91 L326.50,1180.29 L333.35,1178.67 L340.20,1177.07 L347.06,1175.49 L353.91,1173.92 L360.76,1172.36 L367.62,1170.83 L374.47,1169.30 L381.32,1167.80 L388.17,1166.31 L395.03,1164.83 L401.88,1163.38 L408.73,1161.94 L415.59,1160.53 L422.44,1159.13 L429.29,1157.75 L436.14,1156.39 L443.00,1155.05 L449.85,1153.73 L456.70,1152.43 L463.56,1151.15 L470.41,1149.89 L477.26,1148.65 L484.11,1147.44 L490.97,1146.24 L497.82,1145.06 L504.67,1143.91 L511.53,1142.77 L518.38,1141.65 L525.23,1140.56 L532.08,1139.49 L538.94,1138.43 L545.79,1137.40 L552.64,1136.39 L559.49,1135.39 L566.35,1134.42 L573.20,1133.47 L580.05,1132.54 L586.91,1131.62 L593.76,1130.73 L600.61,1129.85 L607.46,1129.00 L614.32,1128.16 L621.17,1127.34 L628.02,1126.54 L634.88,1125.76 L641.73,1125.00 L648.58,1124.25 L655.43,1123.52 L662.29,1122.81 L669.14,1122.11 L675.99,1121.43 L682.85,1120.77 L689.70,1120.12 L696.55,1119.49 L703.40,1118.88 L710.26,1118.28 L717.11,1117.69 L723.96,1117.12 L730.82,1116.56 L737.67,1116.02 L744.52,1115.49 L751.37,1114.98 L758.23,1114.47 L765.08,1113.99 L771.93,1113.51 L778.79,1113.05 L785.64,1112.59 L792.49,1112.15 L799.34,1111.73 L806.20,1111.31 L813.05,1110.90 L819.90,1110.51 L826.76,1110.12 L833.61,1109.75 L840.46,1109.39 L847.31,1109.03 L854.17,1108.69 L861.02,1108.35 L867.87,1108.03 L874.73,1107.71 L881.58,1107.41 L888.43,1107.11 L895.28,1106.82 L902.14,1106.53 L908.99,1106.26 L915.84,1105.99 L922.70,1105.73 L929.55,1105.48 L936.40,1105.23 L943.25,1104.99 L950.11,1104.76 L956.96,1104.54 L963.81,1104.32 L970.67,1104.11 L977.52,1103.90 L984.37,1103.70 L991.22,1103.51 L998.08,1103.32 L1004.93,1103.13 L1011.78,1102.96 L1018.64,1102.78 L1025.49,1102.62 L1032.34,1102.45 L1039.19,1102.29 L1046.05,1102.14 L1052.90,1101.99 L1059.75,1101.85 L1066.61,1101.71 L1073.46,1101.57 L1080.31,1101.44 L1087.16,1101.31 L1094.02,1101.18 L1100.87,1101.06 L1107.72,1100.94 L1114.58,1100.83 L1121.43,1100.72 L1128.28,1100.61 L1135.13,1100.51 L1141.99,1100.41 L1148.84,1100.31 L1155.69,1100.21 L1162.55,1100.12 L1169.40,1100.03 L1176.25,1099.94 L1183.10,1099.86 L1189.96,1099.78 L1196.81,1099.70 L1203.66,1099.62 L1210.52,1099.54 L1217.37,1099.47 L1224.22,1099.40 L1231.07,1099.33 L1237.93,1099.27 L1244.78,1099.20 L1251.63,1099.14 L1258.48,1099.08 L1265.34,1099.02 L1272.19,1098.96 L1279.04,1098.91 L1285.90,1098.86 L1292.75,1098.80 L1299.60,1098.75 L1306.45,1098.70 L1313.31,1098.66 L1320.16,1098.61 L1327.01,1098.57 L1333.87,1098.52 L1340.72,1098.48 L1347.57,1098.44 L1354.42,1098.40 L1361.28,1098.36 L1368.13,1098.32 L1374.98,1098.29 L1381.84,1098.25 L1388.69,1098.22 L1395.54,1098.19 L1402.39,1098.16 L1409.25,1098.12 L1416.10,1098.09 L1422.95,1098.07 L1429.81,1098.04 L1436.66,1098.01 L1443.51,1097.98 L1450.36,1097.96 L1457.22,1097.93 L1464.07,1097.91 L1470.92,1097.89 L1477.78,1097.86 L1484.63,1097.84 L1491.48,1097.82 L1498.33,1097.80 L1505.19,1097.78 L1512.04,1097.76 L1518.89,1097.74 L1525.75,1097.72 L1532.60,1097.70 L1539.45,1097.69 L1546.30,1097.67 L1553.16,1097.65 L1560.01,1097.64 L1566.86,1097.62 L1573.72,1097.61 L1580.57,1097.59 L1587.42,1097.58 L1594.27,1097.57 L1601.13,1097.55 L1607.98,1097.54 L1614.83,1097.53 L1621.69,1097.52 L1628.54,1097.50 L1635.39,1097.49 L1642.24,1097.48 L1649.10,1097.47 L1655.95,1097.46 L1662.80,1097.45 L1669.66,1097.44 L1676.51,1097.43 L1683.36,1097.42 L1690.21,1097.42 L1697.07,1097.41 L1703.92,1097.40 L1710.77,1097.39 L1717.63,1097.38 L1724.48,1097.38 L1731.33,1097.37 L1738.18,1097.36 L1745.04,1097.35 L1751.89,1097.35 L1758.74,1097.34 L1765.60,1097.34 L1772.45,1097.33 L1779.30,1097.32 L1786.15,1097.32 L1793.01,1097.31 L1799.86,1097.31 L1806.71,1097.30 L1813.57,1097.30 L1820.42,1097.29 L1827.27,1097.29 L1834.12,1097.28 L1840.98,1097.28 L1847.83,1097.27 L1854.68,1097.27 L1861.54,1097.27 L1868.39,1097.26 L1875.24,1097.26 L1882.09,1097.25 L1888.95,1097.25 L1895.80,1097.25 L1902.65,1097.24 L1909.51,1097.24 L1916.36,1097.24 L1923.21,1097.23 L1930.06,1097.23 L1936.92,1097.23 L1943.77,1097.23 L1950.62,1097.22 L1957.47,1097.22 L1964.33,1097.22 L1971.18,1097.22 L1978.03,1097.21 L1984.89,1097.21 L1991.74,1097.21 L1998.59,1097.21 L2005.44,1097.20 L2012.30,1097.20 L2019.15,1097.20 L2026.00,1097.20 L2032.86,1097.20 L2039.71,1097.19 L2046.56,1097.19 L2053.41,1097.19 L2060.27,1097.19 L2067.12,1097.19 L2073.97,1097.19 L2080.83,1097.19 L2087.68,1097.18 L2094.53,1097.18 L2101.38,1097.18 L2108.24,1097.18 L2115.09,1097.18 L2121.94,1097.18 L2128.80,1097.18 L2135.65,1097.17 L2142.50,1097.17 L2149.35,1097.17 L2156.21,1097.17 L2163.06,1097.17 L2169.91,1097.17 L2176.77,1097.17 L2183.62,1097.17 L2190.47,1097.17 L2197.32,1097.17 L2204.18,1097.16 L2211.03,1097.16 L2217.88,1097.16 L2224.74,1097.16 L2231.59,1097.16 L2238.44,1097.16 L2245.29,1097.16 L2252.15,1097.16 L2259.00,1097.16"/>
<path d="M210.00,1209.10 L216.85,1207.94 L223.71,1206.78 L230.56,1205.62 L237.41,1204.46 L244.26,1203.31 L251.12,1202.17 L257.97,1201.03 L264.82,1199.90 L271.68,1198.78 L278.53,1197.68 L285.38,1196.58 L292.23,1195.50 L299.09,1194.43 L305.94,1193.37 L312.79,1192.33 L319.65,1191.30 L326.50,1190.30 L333.35,1189.30 L340.20,1188.33 L347.06,1187.38 L353.91,1186.44 L360.76,1185.52 L367.62,1184.63 L374.47,1183.75 L381.32,1182.89 L388.17,1182.06 L395.03,1181.24 L401.88,1180.45 L408.73,1179.67 L415.59,1178.92 L422.44,1178.19 L429.29,1177.47 L436.14,1176.78 L443.00,1176.11 L449.85,1175.46 L456.70,1174.83 L463.56,1174.22 L470.41,1173.62 L477.26,1173.05 L484.11,1172.49 L490.97,1171.96 L497.82,1171.44 L504.67,1170.94 L511.53,1170.45 L518.38,1169.99 L525.23,1169.54 L532.08,1169.10 L538.94,1168.69 L545.79,1168.28 L552.64,1167.89 L559.49,1167.52 L566.35,1167.16 L573.20,1166.82 L580.05,1166.48 L586.91,1166.16 L593.76,1165.85 L600.61,1165.56 L607.46,1165.28 L614.32,1165.00 L621.17,1164.74 L628.02,1164.49 L634.88,1164.25 L641.73,1164.02 L648.58,1163.79 L655.43,1163.58 L662.29,1163.38 L669.14,1163.18 L675.99,1162.99 L682.85,1162.81 L689.70,1162.64 L696.55,1162.48 L703.40,1162.32 L710.26,1162.17 L717.11,1162.02 L723.96,1161.88 L730.82,1161.75 L737.67,1161.62 L744.52,1161.50 L751.37,1161.38 L758.23,1161.27 L765.08,1161.16 L771.93,1161.06 L778.79,1160.96 L785.64,1160.87 L792.49,1160.78 L799.34,1160.69 L806.20,1160.61 L813.05,1160.53 L819.90,1160.46 L826.76,1160.39 L833.61,1160.32 L840.46,1160.25 L847.31,1160.19 L854.17,1160.13 L861.02,1160.07 L867.87,1160.02 L874.73,1159.97 L881.58,1159.92 L888.43,1159.87 L895.28,1159.82 L902.14,1159.78 L908.99,1159.74 L915.84,1159.70 L922.70,1159.66 L929.55,1159.62 L936.40,1159.59 L943.25,1159.56 L950.11,1159.52 L956.96,1159.49 L963.81,1159.47 L970.67,1159.44 L977.52,1159.41 L984.37,1159.39 L991.22,1159.36 L998.08,1159.34 L1004.93,1159.32 L1011.78,1159.30 L1018.64,1159.28 L1025.49,1159.26 L1032.34,1159.24 L1039.19,1159.22 L1046.05,1159.20 L1052.90,1159.19 L1059.75,1159.17 L1066.61,1159.16 L1073.46,1159.14 L1080.31,1159.13 L1087.16,1159.12 L1094.02,1159.11 L1100.87,1159.10 L1107.72,1159.08 L1114.58,1159.07 L1121.43,1159.06 L1128.28,1159.05 L1135.13,1159.04 L1141.99,1159.04 L1148.84,1159.03 L1155.69,1159.02 L1162.55,1159.01 L1169.40,1159.00 L1176.25,1159.00 L1183.10,1158.99 L1189.96,1158.98 L1196.81,1158.98 L1203.66,1158.97 L1210.52,1158.97 L1217.37,1158.96 L1224.22,1158.96 L1231.07,1158.95 L1237.93,1158.95 L1244.78,1158.94 L1251.63,1158.94 L1258.48,1158.93 L1265.34,1158.93 L1272.19,1158.93 L1279.04,1158.92 L1285.90,1158.92 L1292.75,1158.92 L1299.60,1158.91 L1306.45,1158.91 L1313.31,1158.91 L1320.16,1158.91 L1327.01,1158.90 L1333.87,1158.90 L1340.72,1158.90 L1347.57,1158.90 L1354.42,1158.89 L1361.28,1158.89 L1368.13,1158.89 L1374.98,1158.89 L1381.84,1158.89 L1388.69,1158.89 L1395.54,1158.88 L1402.39,1158.88 L1409.25,1158.88 L1416.10,1158.88 L1422.95,1158.88 L1429.81,1158.88 L1436.66,1158.88 L1443.51,1158.87 L1450.36,1158.87 L1457.22,1158.87 L1464.07,1158.87 L1470.92,1158.87 L1477.78,1158.87 L1484.63,1158.87 L1491.48,1158.87 L1498.33,1158.87 L1505.19,1158.87 L1512.04,1158.87 L1518.89,1158.86 L1525.75,1158.86 L1532.60,1158.86 L1539.45,1158.86 L1546.30,1158.86 L1553.16,1158.86 L1560.01,1158.86 L1566.86,1158.86 L1573.72,1158.86 L1580.57,1158.86 L1587.42,1158.86 L1594.27,1158.86 L1601.13,1158.86 L1607.98,1158.86 L1614.83,1158.86 L1621.69,1158.86 L1628.54,1158.86 L1635.39,1158.86 L1642.24,1158.86 L1649.10,1158.86 L1655.95,1158.86 L1662.80,1158.86 L1669.66,1158.86 L1676.51,1158.86 L1683.36,1158.86 L1690.21,1158.85 L1697.07,1158.85 L1703.92,1158.85 L1710.77,1158.85 L1717.63,1158.85 L1724.48,1158.85 L1731.33,1158.85 L1738.18,1158.85 L1745.04,1158.85 L1751.89,1158.85 L1758.74,1158.85 L1765.60,1158.85 L1772.45,1158.85 L1779.30,1158.85 L1786.15,1158.85 L1793.01,1158.85 L1799.86,1158.85 L1806.71,1158.85 L1813.57,1158.85 L1820.42,1158.85 L1827.27,1158.85 L1834.12,1158.85 L1840.98,1158.85 L1847.83,1158.85 L1854.68,1158.85 L1861.54,1158.85 L1868.39,1158.85 L1875.24,1158.85 L1882.09,1158.85 L1888.95,1158.85 L1895.80,1158.85 L1902.65,1158.85 L1909.51,1158.85 L1916.36,1158.85 L1923.21,1158.85 L1930.06,1158.85 L1936.92,1158.85 L1943.77,1158.85 L1950.62,1158.85 L1957.47,1158.85 L1964.33,1158.85 L1971.18,1158.85 L1978.03,1158.85 L1984.89,1158.85 L1991.74,1158.85 L1998.59,1158.85 L2005.44,1158.85 L2012.30,1158.85 L2019.15,1158.85 L2026.00,1158.85 L2032.86,1158.85 L2039.71,1158.85 L2046.56,1158.85 L2053.41,1158.85 L2060.27,1158.85 L2067.12,1158.85 L2073.97,1158.85 L2080.83,1158.85 L2087.68,1158.85 L2094.53,1158.85 L2101.38,1158.85 L2108.24,1158.85 L2115.09,1158.85 L2121.94,1158.85 L2128.80,1158.85 L2135.65,1158.85 L2142.50,1158.85 L2149.35,1158.85 L2156.21,1158.85 L2163.06,1158.85 L2169.91,1158.85 L2176.77,1158.85 L2183.62,1158.85 L2190.47,1158.85 L2197.32,1158.85 L2204.18,1158.85 L2211.03,1158.85 L2217.88,1158.85 L2224.74,1158.85 L2231.59,1158.85 L2238.44,1158.85 L2245.29,1158.85 L2252.15,1158.85 L2259.00,1158.85"/>
<path d="M210.00,1209.10 L216.85,1208.84 L223.71,1208.58 L230.56,1208.32 L237.41,1208.06 L244.26,1207.80 L251.12,1207.54 L257.97,1207.28 L264.82,1207.02 L271.68,1206.76 L278.53,1206.51 L285.38,1206.25 L292.23,1205.99 L299.09,1205.73 L305.94,1205.47 L312.79,1205.21 L319.65,1204.96 L326.50,1204.70 L333.35,1204.44 L340.20,1204.19 L347.06,1203.93 L353.91,1203.68 L360.76,1203.42 L367.62,1203.16 L374.47,1202.91 L381.32,1202.66 L388.17,1202.40 L395.03,1202.15 L401.88,1201.90 L408.73,1201.64 L415.59,1201.39 L422.44,1201.14 L429.29,1200.89 L436.14,1200.64 L443.00,1200.39 L449.85,1200.14 L456.70,1199.89 L463.56,1199.65 L470.41,1199.40 L477.26,1199.15 L484.11,1198.91 L490.97,1198.66 L497.82,1198.42 L504.67,1198.18 L511.53,1197.93 L518.38,1197.69 L525.23,1197.45 L532.08,1197.21 L538.94,1196.97 L545.79,1196.73 L552.64,1196.49 L559.49,1196.26 L566.35,1196.02 L573.20,1195.78 L580.05,1195.55 L586.91,1195.32 L593.76,1195.08 L600.61,1194.85 L607.46,1194.62 L614.32,1194.39 L621.17,1194.16 L628.02,1193.93 L634.88,1193.71 L641.73,1193.48 L648.58,1193.26 L655.43,1193.03 L662.29,1192.81 L669.14,1192.59 L675.99,1192.37 L682.85,1192.15 L689.70,1191.93 L696.55,1191.71 L703.40,1191.49 L710.26,1191.28 L717.11,1191.06 L723.96,1190.85 L730.82,1190.63 L737.67,1190.42 L744.52,1190.21 L751.37,1190.00 L758.23,1189.80 L765.08,1189.59 L771.93,1189.38 L778.79,1189.18 L785.64,1188.97 L792.49,1188.77 L799.34,1188.57 L806.20,1188.37 L813.05,1188.17 L819.90,1187.97 L826.76,1187.78 L833.61,1187.58 L840.46,1187.39 L847.31,1187.19 L854.17,1187.00 L861.02,1186.81 L867.87,1186.62 L874.73,1186.43 L881.58,1186.24 L888.43,1186.06 L895.28,1185.87 L902.14,1185.69 L908.99,1185.51 L915.84,1185.33 L922.70,1185.15 L929.55,1184.97 L936.40,1184.79 L943.25,1184.61 L950.11,1184.44 L956.96,1184.26 L963.81,1184.09 L970.67,1183.92 L977.52,1183.75 L984.37,1183.58 L991.22,1183.41 L998.08,1183.24 L1004.93,1183.08 L1011.78,1182.91 L1018.64,1182.75 L1025.49,1182.59 L1032.34,1182.43 L1039.19,1182.27 L1046.05,1182.11 L1052.90,1181.95 L1059.75,1181.80 L1066.61,1181.64 L1073.46,1181.49 L1080.31,1181.34 L1087.16,1181.18 L1094.02,1181.03 L1100.87,1180.88 L1107.72,1180.74 L1114.58,1180.59 L1121.43,1180.44 L1128.28,1180.30 L1135.13,1180.16 L1141.99,1180.02 L1148.84,1179.87 L1155.69,1179.73 L1162.55,1179.60 L1169.40,1179.46 L1176.25,1179.32 L1183.10,1179.19 L1189.96,1179.05 L1196.81,1178.92 L1203.66,1178.79 L1210.52,1178.66 L1217.37,1178.53 L1224.22,1178.40 L1231.07,1178.27 L1237.93,1178.15 L1244.78,1178.02 L1251.63,1177.90 L1258.48,1177.77 L1265.34,1177.65 L1272.19,1177.53 L1279.04,1177.41 L1285.90,1177.29 L1292.75,1177.17 L1299.60,1177.06 L1306.45,1176.94 L1313.31,1176.83 L1320.16,1176.71 L1327.01,1176.60 L1333.87,1176.49 L1340.72,1176.38 L1347.57,1176.27 L1354.42,1176.16 L1361.28,1176.05 L1368.13,1175.95 L1374.98,1175.84 L1381.84,1175.74 L1388.69,1175.63 L1395.54,1175.53 L1402.39,1175.43 L1409.25,1175.33 L1416.10,1175.23 L1422.95,1175.13 L1429.81,1175.03 L1436.66,1174.93 L1443.51,1174.84 L1450.36,1174.74 L1457.22,1174.65 L1464.07,1174.55 L1470.92,1174.46 L1477.78,1174.37 L1484.63,1174.28 L1491.48,1174.19 L1498.33,1174.10 L1505.19,1174.01 L1512.04,1173.93 L1518.89,1173.84 L1525.75,1173.75 L1532.60,1173.67 L1539.45,1173.59 L1546.30,1173.50 L1553.16,1173.42 L1560.01,1173.34 L1566.86,1173.26 L1573.72,1173.18 L1580.57,1173.10 L1587.42,1173.02 L1594.27,1172.94 L1601.13,1172.87 L1607.98,1172.79 L1614.83,1172.72 L1621.69,1172.64 L1628.54,1172.57 L1635.39,1172.50 L1642.24,1172.42 L1649.10,1172.35 L1655.95,1172.28 L1662.80,1172.21 L1669.66,1172.14 L1676.51,1172.07 L1683.36,1172.01 L1690.21,1171.94 L1697.07,1171.87 L1703.92,1171.81 L1710.77,1171.74 L1717.63,1171.68 L1724.48,1171.61 L1731.33,1171.55 L1738.18,1171.49 L1745.04,1171.43 L1751.89,1171.37 L1758.74,1171.31 L1765.60,1171.25 L1772.45,1171.19 L1779.30,1171.13 L1786.15,1171.07 L1793.01,1171.01 L1799.86,1170.96 L1806.71,1170.90 L1813.57,1170.85 L1820.42,1170.79 L1827.27,1170.74 L1834.12,1170.68 L1840.98,1170.63 L1847.83,1170.58 L1854.68,1170.53 L1861.54,1170.47 L1868.39,1170.42 L1875.24,1170.37 L1882.09,1170.32 L1888.95,1170.27 L1895.80,1170.22 L1902.65,1170.18 L1909.51,1170.13 L1916.36,1170.08 L1923.21,1170.04 L1930.06,1169.99 L1936.92,1169.94 L1943.77,1169.90 L1950.62,1169.85 L1957.47,1169.81 L1964.33,1169.77 L1971.18,1169.72 L1978.03,1169.68 L1984.89,1169.64 L1991.74,1169.60 L1998.59,1169.55 L2005.44,1169.51 L2012.30,1169.47 L2019.15,1169.43 L2026.00,1169.39 L2032.86,1169.35 L2039.71,1169.32 L2046.56,1169.28 L2053.41,1169.24 L2060.27,1169.20 L2067.12,1169.17 L2073.97,1169.13 L2080.83,1169.09 L2087.68,1169.06 L2094.53,1169.02 L2101.38,1168.99 L2108.24,1168.95 L2115.09,1168.92 L2121.94,1168.88 L2128.80,1168.85 L2135.65,1168.82 L2142.50,1168.78 L2149.35,1168.75 L2156.21,1168.72 L2163.06,1168.69 L2169.91,1168.66 L2176.77,1168.63 L2183.62,1168.60 L2190.47,1168.57 L2197.32,1168.54 L2204.18,1168.51 L2211.03,1168.48 L2217.88,1168.45 L2224.74,1168.42 L2231.59,1168.39 L2238.44,1168.36 L2245.29,1168.34 L2252.15,1168.31 L2259.00,1168.28"/>
</g>
<g font-size="43">
<text x="210.0" y="1302.3" text-anchor="middle">0.0</text>
<text x="551.5" y="1302.3" text-anchor="middle">0.5</text>
<text x="893.0" y="1302.3" text-anchor="middle">1.0</text>
<text x="1234.5" y="1302.3" text-anchor="middle">1.5</text>
<text x="1576.0" y="1302.3" text-anchor="middle">2.0</text>
<text x="1917.5" y="1302.3" text-anchor="middle">2.5</text>
<text x="2259.0" y="1302.3" text-anchor="middle">3.0</text>
<text x="97.3" y="1223.3" text-anchor="end">0</text>
<text x="97.3" y="1066.3" text-anchor="end">1</text>
<text x="97.3" y="909.2" text-anchor="end">2</text>
<text x="97.3" y="752.2" text-anchor="end">3</text>
<text x="97.3" y="595.2" text-anchor="end">4</text>
<text x="97.3" y="438.1" text-anchor="end">5</text>
<text x="97.3" y="281.1" text-anchor="end">6</text>
<text x="97.3" y="124.1" text-anchor="end">7</text>
</g>
<text x="1235" y="53.7" text-anchor="middle" font-size="47" textLength="913" lengthAdjust="spacingAndGlyphs">Logistic Saturation Curve (Default Priors)</text>
<text x="1234" y="1355.2" text-anchor="middle" font-size="44" textLength="201" lengthAdjust="spacingAndGlyphs">Spend (x)</text>
<text transform="translate(53,668.6) rotate(-90)" x="0" y="0" text-anchor="middle" font-size="44" textLength="477" lengthAdjust="spacingAndGlyphs">Saturated Contribution</text>
</svg>
</body></html>
